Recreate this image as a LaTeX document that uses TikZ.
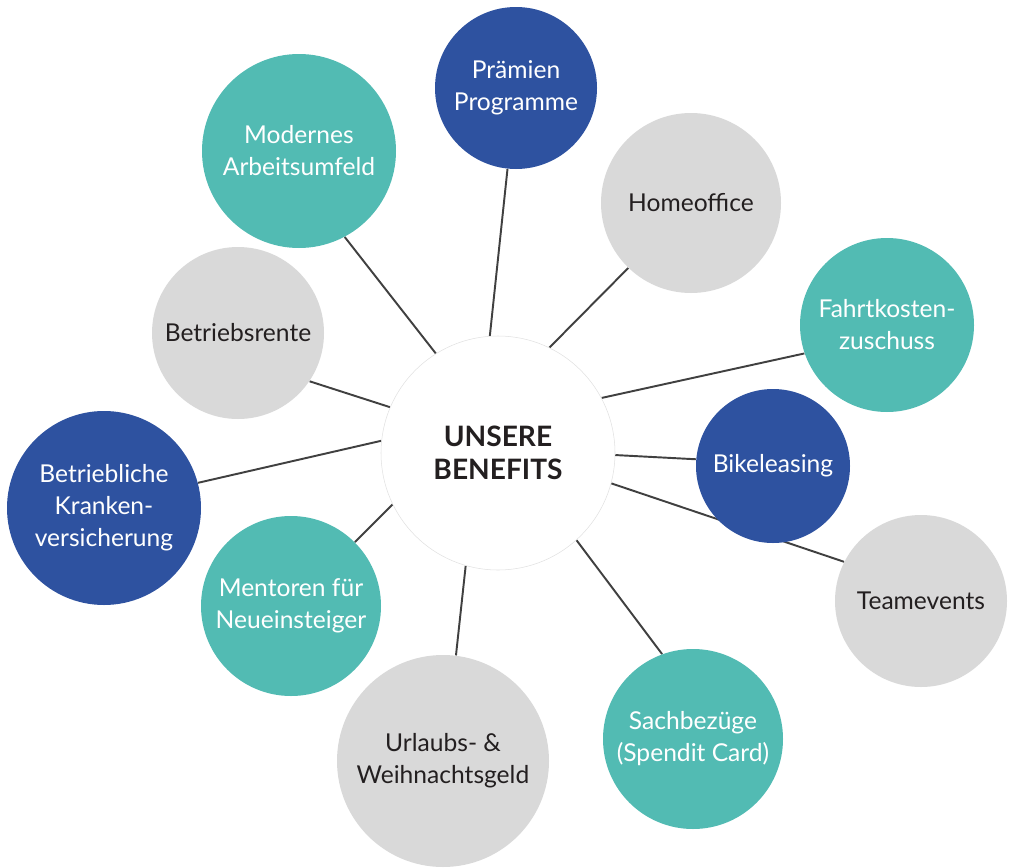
\documentclass[tikz,border=0pt]{standalone}
\usepackage{fontspec}
\setmainfont{Lato}
\usetikzlibrary{backgrounds}
\definecolor{benefitblue}{RGB}{46,82,160}
\definecolor{benefitteal}{RGB}{82,187,179}
\definecolor{benefitgray}{RGB}{217,217,217}
\definecolor{benefittext}{RGB}{35,31,32}
\definecolor{benefitline}{RGB}{64,64,64}
\tikzset{
benefit/.style={ % Sets the properties for each benefit circle
circle,
inner sep=0pt,
align=center,
font=\fontsize{14}{18.2}\selectfont},
rad/.style={minimum size=#1*0.4mm}, % radius given in pixels
bluebenefit/.style={benefit, fill=benefitblue, text=white},
tealbenefit/.style={benefit, fill=benefitteal, text=white},
graybenefit/.style={benefit, fill=benefitgray, text=benefittext},
hub/.style={ % The centre circle
circle,
inner sep=0pt,
fill=white,
draw=benefitgray!80,
line width=0.3pt,
align=center,
text=benefittext,
font=\fontsize{16}{19}\selectfont\bfseries},
every edge/.style={ % Sets the properties for each connector
draw,
line width=1.1pt,
benefitline}}

\begin{document}
\begin{tikzpicture}[x=0.2mm, y=-0.2mm]
\useasboundingbox (0,0) rectangle (1013,867);
\node[hub, rad=117] (c) at (498,453) {UNSERE\\BENEFITS};
\node[bluebenefit, rad=81] (pr) at (516,88) {Prämien\\Programme};
\node[tealbenefit, rad=97] (ma) at (299,151) {Modernes\\Arbeitsumfeld};
\node[graybenefit, rad=90] (ho) at (691,203) {Homeoffice};
\node[tealbenefit, rad=87] (fz) at (887,325) {Fahrtkosten-\\zuschuss};
\node[graybenefit, rad=86] (br) at (238,333) {Betriebsrente};
\node[bluebenefit, rad=97] (kv) at (104,508) {Betriebliche\\Kranken-\\versicherung};
\node[bluebenefit, rad=77] (bl) at (773,466) {Bikeleasing};
\node[graybenefit, rad=86] (te) at (921,601) {Teamevents};
\node[tealbenefit, rad=90] (mn) at (291,606) {Mentoren für\\Neueinsteiger};
\node[graybenefit, rad=106] (uw) at (443,761) {Urlaubs- \&\\Weihnachtsgeld};
\node[tealbenefit, rad=90] (sb) at (693,739) {Sachbezüge\\(Spendit Card)};
\begin{pgfonlayer}{background}
\draw (c.94) edge (pr.264);
\draw (c.122) edge (ma.-62);
\draw (c.64) edge (ho.-134);
\draw (c.28) edge (fz.-161);
\draw (c.-1) edge (bl.175);
\draw (c.-15) edge (te.153);
\draw (c.-48) edge (sb.110);
\draw (c.-106) edge (uw.83);
\draw (c.-154) edge (mn.45);
\draw (c.174) edge (kv.15);
\draw (c.157) edge (br.-34);
\end{pgfonlayer}
\end{tikzpicture}
\end{document}
